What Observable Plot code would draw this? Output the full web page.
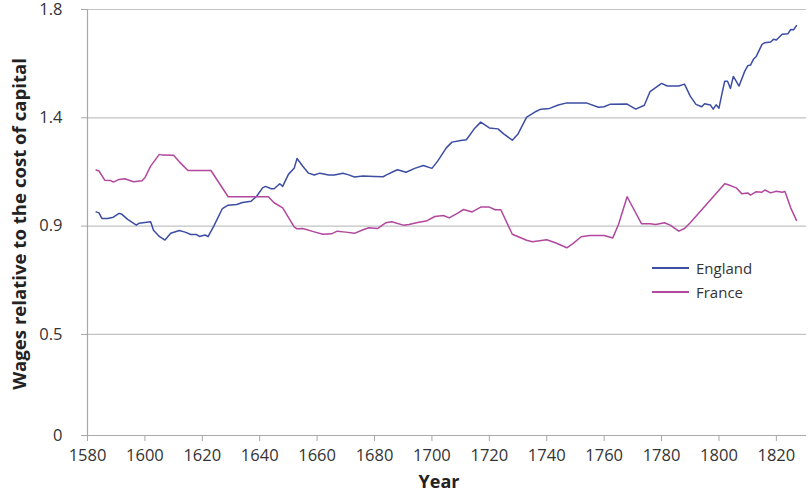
<!DOCTYPE html>
<html>
<head>
<meta charset="utf-8">
<script src="https://cdn.jsdelivr.net/npm/d3@7"></script>
<script src="https://cdn.jsdelivr.net/npm/@observablehq/plot@0.6"></script>
<style>
  html, body { margin: 0; padding: 0; background: #fff; }
  #wrap { position: relative; width: 810px; height: 501px; font-family: 'Open Sans', sans-serif; }
  #legend { position: absolute; left: 652px; top: 256px; font-size: 15px; color: #333; }
  .item { display: flex; align-items: center; height: 24px; }
  .swatch { display: inline-block; width: 37px; height: 1.6px; margin-right: 7px; }
  .title { position: absolute; font-weight: bold; font-size: 18px; color: #222; white-space: nowrap; line-height: 1; }
  #ytitle { left: 19px; top: 224px; font-size: 18.6px; transform: translate(-50%, -50%) rotate(-90deg); }
  #xtitle { left: 439px; top: 481px; transform: translate(-50%, -50%); }
</style>
</head>
<body>
<div id="wrap"></div>
<script>
const englandYears = [1583,1584,1585,1587,1589,1591,1592,1594,1597,1598,1600,1602,1603,1605,1607,1609,1612,1614,1616,1618,1619,1621,1622,1624,1627,1629,1632,1634,1637,1639,1641,1642,1644,1645,1647,1648,1650,1652,1653,1655,1657,1659,1661,1664,1666,1669,1671,1673,1676,1680,1683,1684,1687,1688,1691,1694,1697,1700,1702,1705,1707,1710,1712,1715,1717,1720,1723,1725,1728,1730,1733,1736,1738,1741,1744,1747,1751,1754,1758,1760,1762,1768,1771,1774,1776,1780,1782,1786,1788,1790,1792,1794,1795,1797,1798,1799,1800,1801,1802,1803,1804,1805,1806,1807,1809,1810,1811,1812,1813,1815,1816,1818,1819,1820,1822,1824,1825,1826,1827];
const englandValues = [0.959,0.955,0.932,0.932,0.937,0.953,0.949,0.928,0.904,0.912,0.915,0.918,0.883,0.857,0.842,0.870,0.882,0.875,0.865,0.865,0.857,0.863,0.856,0.900,0.973,0.987,0.990,0.998,1.003,1.025,1.059,1.065,1.055,1.055,1.076,1.065,1.115,1.140,1.181,1.149,1.120,1.112,1.120,1.112,1.112,1.120,1.113,1.104,1.108,1.106,1.105,1.112,1.129,1.134,1.124,1.140,1.152,1.140,1.170,1.225,1.249,1.256,1.259,1.308,1.332,1.308,1.304,1.283,1.257,1.283,1.353,1.375,1.386,1.389,1.403,1.412,1.412,1.411,1.394,1.396,1.406,1.407,1.386,1.402,1.459,1.493,1.482,1.482,1.490,1.440,1.406,1.396,1.408,1.403,1.386,1.404,1.390,1.447,1.502,1.502,1.472,1.522,1.502,1.482,1.544,1.566,1.569,1.593,1.605,1.655,1.662,1.665,1.676,1.673,1.697,1.699,1.717,1.716,1.733];

const franceYears = [1583,1584,1586,1588,1589,1591,1593,1596,1599,1600,1602,1605,1606,1610,1612,1615,1623,1629,1643,1645,1648,1652,1653,1655,1659,1662,1665,1667,1670,1673,1676,1678,1681,1684,1686,1690,1692,1695,1698,1701,1704,1706,1709,1711,1714,1717,1720,1722,1724,1728,1733,1735,1740,1743,1747,1749,1752,1755,1760,1763,1765,1768,1773,1776,1778,1781,1783,1786,1788,1790,1802,1803,1806,1808,1810,1811,1813,1815,1816,1818,1820,1822,1823,1825,1827];
const franceValues = [1.133,1.129,1.091,1.090,1.083,1.094,1.097,1.084,1.088,1.101,1.149,1.198,1.195,1.194,1.167,1.131,1.131,1.022,1.022,0.997,0.976,0.897,0.889,0.890,0.876,0.866,0.868,0.879,0.875,0.870,0.885,0.893,0.890,0.914,0.918,0.904,0.907,0.915,0.921,0.940,0.944,0.934,0.954,0.969,0.959,0.979,0.979,0.968,0.968,0.866,0.841,0.835,0.843,0.831,0.810,0.826,0.856,0.861,0.861,0.851,0.907,1.022,0.910,0.910,0.907,0.914,0.904,0.879,0.890,0.914,1.076,1.073,1.059,1.034,1.038,1.029,1.043,1.041,1.050,1.038,1.045,1.041,1.044,0.976,0.924];

const seriesNames = ["England", "France"];
const seriesColors = ["#3c4da3", "#b2479e"];
const xTicks = [1580,1600,1620,1640,1660,1680,1700,1720,1740,1760,1780,1800,1820];
const yTicks = [0.03, 0.45, 0.9, 1.35, 1.8];
const yTickLabels = ["0", "0.5", "0.9", "1.4", "1.8"];
const xTitle = "Year";
const yTitle = "Wages relative to the cost of capital";

const data = [
  ...englandYears.map((yr, i) => ({year: yr, value: englandValues[i], country: seriesNames[0]})),
  ...franceYears.map((yr, i) => ({year: yr, value: franceValues[i], country: seriesNames[1]}))
];

const chart = Plot.plot({
  width: 810,
  height: 501,
  marginLeft: 87,
  marginRight: 4,
  marginTop: 9,
  marginBottom: 66,
  style: {fontFamily: "'Open Sans', sans-serif", fontSize: "16.5px", color: "#333", background: "#fff", overflow: "visible"},
  x: {domain: [1580, 1830.5], label: null},
  y: {domain: [yTicks[0], yTicks[yTicks.length - 1]], label: null},
  color: {domain: seriesNames, range: seriesColors},
  marks: [
    Plot.gridY(yTicks.slice(1), {stroke: "#c2c2c2", strokeOpacity: 1, strokeWidth: 1.2}),
    Plot.axisY(yTicks, {tickSize: 6, tickPadding: 19, stroke: "#a8a8a8", fill: "#333", label: null,
      tickFormat: d => yTickLabels[yTicks.indexOf(d)]}),
    Plot.axisX(xTicks, {tickSize: 6, tickPadding: 8, stroke: "#a8a8a8", fill: "#333", label: null,
      tickFormat: d => String(d)}),
    Plot.ruleX([xTicks[0]], {stroke: "#a8a8a8", strokeWidth: 1.2}),
    Plot.ruleY([yTicks[0]], {stroke: "#a8a8a8", strokeWidth: 1.2}),
    Plot.line(data, {x: "year", y: "value", z: "country", stroke: "country", strokeWidth: 1.5})
  ]
});

const wrap = document.getElementById("wrap");
wrap.appendChild(chart);

const yt = document.createElement("div");
yt.id = "ytitle"; yt.className = "title"; yt.textContent = yTitle;
wrap.appendChild(yt);
const xt = document.createElement("div");
xt.id = "xtitle"; xt.className = "title"; xt.textContent = xTitle;
wrap.appendChild(xt);

const legend = document.createElement("div");
legend.id = "legend";
seriesNames.forEach((name, i) => {
  const item = document.createElement("div");
  item.className = "item";
  const sw = document.createElement("span");
  sw.className = "swatch";
  sw.style.background = seriesColors[i];
  const label = document.createElement("span");
  label.textContent = name;
  item.appendChild(sw);
  item.appendChild(label);
  legend.appendChild(item);
});
wrap.appendChild(legend);
</script>
</body>
</html>
